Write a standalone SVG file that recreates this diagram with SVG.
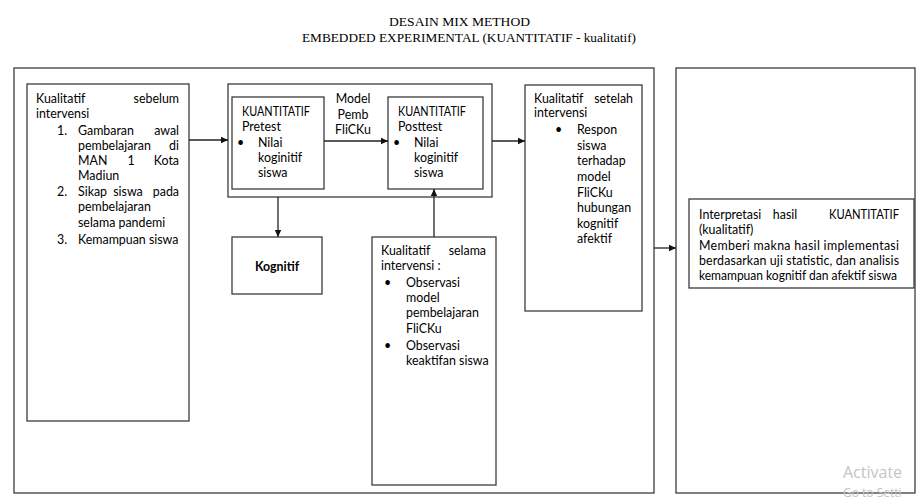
<svg xmlns="http://www.w3.org/2000/svg" width="922" height="502" viewBox="0 0 922 502">
<style>
.bx{fill:none;stroke:#3c3c3c;stroke-width:1.3}
.t{font-family:Lato,"Liberation Sans",sans-serif;font-size:12.4px;fill:#000}
.e{text-anchor:end}
.m{text-anchor:middle}
.ttl{font-family:"Liberation Serif",serif;font-size:12.5px;fill:#000;text-anchor:middle}
.cn{stroke:#222;stroke-width:1.3;fill:none;marker-end:url(#ah)}
.wm{font-family:"Open Sans","Noto Sans",sans-serif;fill:#c4c4c4}
</style>
<defs>
<marker id="ah" markerWidth="8" markerHeight="8" refX="7" refY="4" orient="auto" markerUnits="userSpaceOnUse">
<path d="M0,0.8 L7,4 L0,7.2 Z" fill="#111"/>
</marker>
</defs>
<rect width="922" height="502" fill="#fff"/>
<g id="title">
<text class="ttl" x="459.5" y="26" textLength="141" lengthAdjust="spacingAndGlyphs">DESAIN MIX METHOD</text>
<text class="ttl" x="469" y="42" textLength="334" lengthAdjust="spacingAndGlyphs">EMBEDDED EXPERIMENTAL (KUANTITATIF - kualitatif)</text>
</g>
<g id="outer-left"><rect class="bx" x="14" y="68" width="640" height="425"/></g>
<g id="outer-right"><rect class="bx" x="676" y="68" width="239" height="425"/></g>
<g id="sebelum">
<rect class="bx" x="27" y="84" width="162" height="337"/>
<text class="t" x="36" y="103">Kualitatif</text><text class="t e" x="179" y="103">sebelum</text>
<text class="t" x="36" y="118">intervensi</text>
<text class="t" x="57" y="135">1.</text><text class="t" x="78" y="135">Gambaran</text><text class="t e" x="179" y="135">awal</text>
<text class="t" x="78" y="150">pembelajaran</text><text class="t e" x="179" y="150">di</text>
<text class="t" x="78" y="165">MAN</text><text class="t m" x="131" y="165">1</text><text class="t e" x="179" y="165">Kota</text>
<text class="t" x="78" y="180">Madiun</text>
<text class="t" x="57" y="196">2.</text><text class="t" x="78" y="196">Sikap</text><text class="t m" x="128" y="196">siswa</text><text class="t e" x="179" y="196">pada</text>
<text class="t" x="78" y="211">pembelajaran</text>
<text class="t" x="78" y="227">selama pandemi</text>
<text class="t" x="57" y="244">3.</text><text class="t" x="78" y="244">Kemampuan siswa</text>
</g>
<g id="intervensi-container"><rect class="bx" x="228" y="84" width="264" height="113"/>
<text class="t m" x="353" y="103">Model</text>
<text class="t m" x="353" y="119">Pemb</text>
<text class="t m" x="353" y="134">FliCKu</text>
</g>
<g id="pretest">
<rect class="bx" x="232" y="97" width="92" height="92"/>
<text class="t" x="242" y="116" textLength="68" lengthAdjust="spacingAndGlyphs">KUANTITATIF</text>
<text class="t" x="242" y="131">Pretest</text>
<text class="t" x="237" y="147">•</text>
<text class="t" x="258" y="147">Nilai</text>
<text class="t" x="258" y="162">koginitif</text>
<text class="t" x="258" y="177">siswa</text>
</g>
<g id="posttest">
<rect class="bx" x="388" y="97" width="95" height="92"/>
<text class="t" x="398" y="116" textLength="68" lengthAdjust="spacingAndGlyphs">KUANTITATIF</text>
<text class="t" x="398" y="131">Posttest</text>
<text class="t" x="393" y="147">•</text>
<text class="t" x="414" y="147">Nilai</text>
<text class="t" x="414" y="162">koginitif</text>
<text class="t" x="414" y="177">siswa</text>
</g>
<g id="kognitif">
<rect class="bx" x="232" y="237" width="90" height="57"/>
<text class="t m" x="277" y="271" font-weight="bold" font-size="12px">Kognitif</text>
</g>
<g id="selama">
<rect class="bx" x="372" y="237" width="124" height="248"/>
<text class="t" x="381" y="255">Kualitatif</text><text class="t e" x="486" y="255">selama</text>
<text class="t" x="381" y="270">intervensi :</text>
<text class="t" x="384" y="287">•</text>
<text class="t" x="406" y="287">Observasi</text>
<text class="t" x="406" y="302">model</text>
<text class="t" x="406" y="317">pembelajaran</text>
<text class="t" x="406" y="333">FliCKu</text>
<text class="t" x="384" y="350">•</text>
<text class="t" x="406" y="350">Observasi</text>
<text class="t" x="406" y="365">keaktifan siswa</text>
</g>
<g id="setelah">
<rect class="bx" x="525" y="85" width="117" height="226"/>
<text class="t" x="534" y="103">Kualitatif</text><text class="t e" x="633" y="103">setelah</text>
<text class="t" x="534" y="117">intervensi</text>
<text class="t" x="555" y="134">•</text>
<text class="t" x="577" y="134">Respon</text>
<text class="t" x="577" y="150">siswa</text>
<text class="t" x="577" y="165">terhadap</text>
<text class="t" x="577" y="181">model</text>
<text class="t" x="577" y="197">FliCKu</text>
<text class="t" x="577" y="212">hubungan</text>
<text class="t" x="577" y="228">kognitif</text>
<text class="t" x="577" y="243">afektif</text>
</g>
<g id="interpretasi">
<rect class="bx" x="689" y="199" width="225" height="89"/>
<text class="t" x="699" y="219">Interpretasi</text><text class="t m" x="785" y="219">hasil</text><text class="t e" x="899" y="219" textLength="70" lengthAdjust="spacingAndGlyphs">KUANTITATIF</text>
<text class="t" x="699" y="234">(kualitatif)</text>
<text class="t" x="699" y="250" textLength="200" lengthAdjust="spacing">Memberi makna hasil implementasi</text>
<text class="t" x="699" y="265" textLength="200" lengthAdjust="spacing">berdasarkan uji statistic, dan analisis</text>
<text class="t" x="699" y="280" textLength="198" lengthAdjust="spacingAndGlyphs">kemampuan kognitif dan afektif siswa</text>
</g>
<g id="connectors">
<line class="cn" x1="189" y1="140" x2="228" y2="140"/>
<line class="cn" x1="324" y1="141" x2="388" y2="141"/>
<line class="cn" x1="492" y1="141" x2="525" y2="141"/>
<line class="cn" x1="278" y1="197" x2="278" y2="237"/>
<line class="cn" x1="434" y1="237" x2="434" y2="189"/>
<line class="cn" x1="654" y1="248" x2="676" y2="248"/>
</g>
<g id="watermark">
<text class="wm" x="843" y="478" font-size="16">Activate</text>
<text class="wm" x="843" y="497" font-size="12">Go to Setti</text>
</g>
</svg>
